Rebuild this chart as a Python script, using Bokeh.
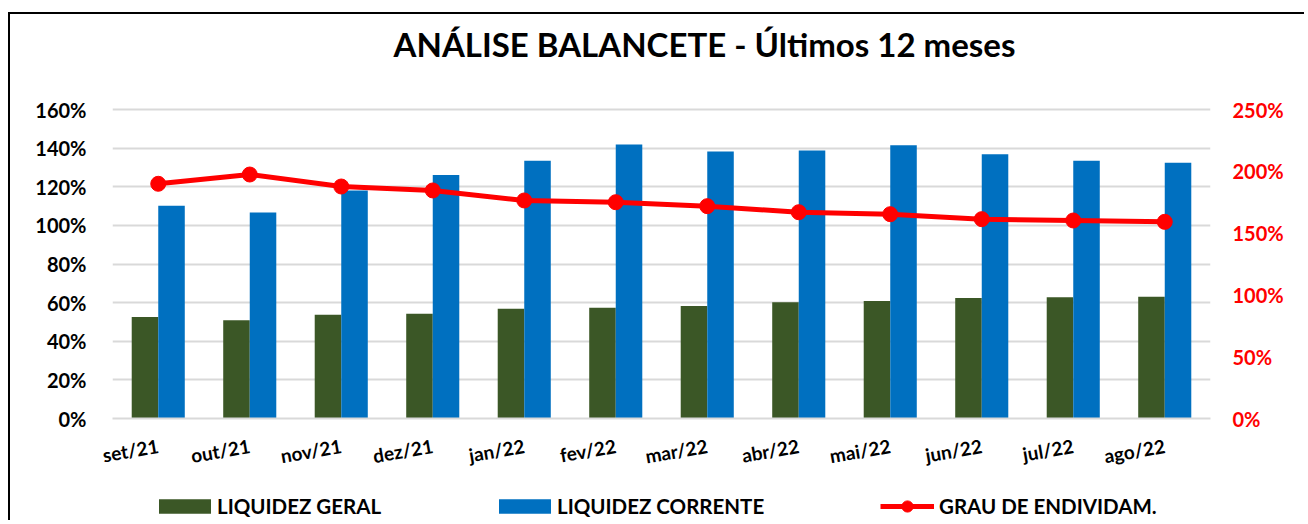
from bokeh.plotting import figure
from bokeh.models import (Range1d, LinearAxis, FixedTicker, NumeralTickFormatter,
                          Legend, LegendItem, Label, Spacer, ColumnDataSource)
from bokeh.transform import dodge
from bokeh.layouts import column, row
from bokeh.embed import file_html
from bokeh.resources import INLINE

months = ["set/21", "out/21", "nov/21", "dez/21", "jan/22", "fev/22",
          "mar/22", "abr/22", "mai/22", "jun/22", "jul/22", "ago/22"]
liquidez_geral = [0.526, 0.509, 0.537, 0.543, 0.568, 0.574,
                  0.583, 0.602, 0.609, 0.624, 0.628, 0.631]
liquidez_corrente = [1.101, 1.067, 1.18, 1.261, 1.335, 1.419,
                     1.383, 1.388, 1.415, 1.368, 1.335, 1.324]
grau_endividamento = [1.899, 1.974, 1.877, 1.845, 1.764, 1.750,
                      1.718, 1.669, 1.653, 1.613, 1.602, 1.591]
left_ticks = [0, 0.2, 0.4, 0.6, 0.8, 1.0, 1.2, 1.4, 1.6]
right_ticks = [0, 0.5, 1.0, 1.5, 2.0, 2.5]
title_text = "ANÁLISE BALANCETE - Últimos 12 meses"
legend_labels = ["LIQUIDEZ GERAL", "LIQUIDEZ CORRENTE", "GRAU DE ENDIVIDAM."]

FONT = "Lato"
GREEN = "#3B5726"
BLUE = "#0070C0"
RED = "#FF0000"

# layout geometry (pixels, canvas coordinates)
W, H = 1296, 476
FRAME_LEFT, FRAME_RIGHT = 102, 1200
GRID_TOP, ZERO_Y = 95, 404           # y of the 160% gridline and of 0
px_per_unit = (ZERO_Y - GRID_TOP) / 1.6
left_max = ZERO_Y / px_per_unit
right_max = left_max * 2.5 / 1.6

src = ColumnDataSource(dict(months=months, lg=liquidez_geral,
                            lc=liquidez_corrente, ge=grau_endividamento))

p = figure(x_range=months, y_range=Range1d(0, left_max), width=W, height=H,
           output_backend="svg", toolbar_location=None,
           min_border_left=FRAME_LEFT, min_border_right=W - FRAME_RIGHT,
           min_border_top=0, min_border_bottom=H - ZERO_Y)
p.title = None
p.outline_line_color = None
p.background_fill_color = "white"
p.border_fill_color = "white"
p.styles = {"border-left": "2px solid black", "border-top": "2px solid black"}

p.extra_y_ranges = {"right": Range1d(0, right_max)}

bw = 0.29


def draw_series(fig, y_range_name="default"):
    a = fig.vbar(x=dodge("months", -bw / 2, range=fig.x_range), top="lg", width=bw,
                 source=src, fill_color=GREEN, line_color=None)
    b = fig.vbar(x=dodge("months", bw / 2, range=fig.x_range), top="lc", width=bw,
                 source=src, fill_color=BLUE, line_color=None)
    c = fig.line(x="months", y="ge", source=src, y_range_name=y_range_name,
                 line_color=RED, line_width=5)
    d = fig.scatter(x="months", y="ge", source=src, y_range_name=y_range_name,
                    size=15, fill_color=RED, line_color=RED)
    return a, b, c, d


draw_series(p, "right")

# grid
p.xgrid.grid_line_color = None
p.ygrid.grid_line_color = "#d9d9d9"
p.ygrid.grid_line_width = 2
p.ygrid.ticker = FixedTicker(ticks=left_ticks)

# left axis
ya = p.yaxis[0]
ya.ticker = FixedTicker(ticks=left_ticks)
ya.formatter = NumeralTickFormatter(format="0%")
ya.axis_line_color = None
ya.major_tick_line_color = None
ya.minor_tick_line_color = None
ya.major_label_standoff = 20
ya.major_label_text_font = FONT
ya.major_label_text_font_style = "bold"
ya.major_label_text_font_size = "20px"
ya.major_label_text_color = "black"

# right axis
ra = LinearAxis(y_range_name="right", ticker=FixedTicker(ticks=right_ticks),
                formatter=NumeralTickFormatter(format="0%"))
ra.axis_line_color = None
ra.major_tick_line_color = None
ra.minor_tick_line_color = None
ra.major_label_standoff = 16
ra.major_label_text_font = FONT
ra.major_label_text_font_style = "bold"
ra.major_label_text_font_size = "20px"
ra.major_label_text_color = RED
p.add_layout(ra, "right")

# x axis
xa = p.xaxis[0]
xa.axis_line_color = "#d9d9d9"
xa.axis_line_width = 2
xa.major_tick_line_color = None
xa.minor_tick_line_color = None
xa.major_label_orientation = 0.17
xa.major_label_standoff = 21
xa.major_label_text_font = FONT
xa.major_label_text_font_style = "bold"
xa.major_label_text_font_size = "19px"
xa.major_label_text_color = "black"

# title
title = Label(x=6.47, y=1.6 + (109 - 43) / 309 * 1.6,
              text=title_text, text_align="center", text_baseline="middle",
              text_font=FONT, text_font_style="bold",
              text_font_size="33px", text_color="black")
p.add_layout(title)

# legend strip below the chart (shares the x range; series drawn out of view)
H2 = 32
p2 = figure(x_range=p.x_range, y_range=Range1d(100, 100 + H2), width=W, height=H2,
            output_backend="svg", toolbar_location=None,
            x_axis_type=None, y_axis_type=None,
            min_border_left=FRAME_LEFT, min_border_right=W - FRAME_RIGHT,
            min_border_top=0, min_border_bottom=0)
p2.title = None
p2.outline_line_color = None
p2.xgrid.visible = False
p2.ygrid.visible = False
p2.background_fill_color = "white"
p2.border_fill_color = "white"
p2.styles = {"border-left": "2px solid black"}

l_lg, l_lc, l_line, l_pts = draw_series(p2)


def make_legend(label, renderers, x, y, gw, gh, standoff):
    lg = Legend(items=[LegendItem(label=label, renderers=renderers)],
                location=(x, y), orientation="horizontal",
                background_fill_alpha=0, border_line_color=None,
                padding=0, margin=0, spacing=0,
                glyph_width=gw, glyph_height=gh, label_standoff=standoff,
                label_height=16,
                label_text_font=FONT, label_text_font_style="bold",
                label_text_font_size="20.5px", label_text_color="black")
    p2.add_layout(lg, "center")


make_legend(legend_labels[0], [l_lg], 40, 2, 65, 18, 0)
make_legend(legend_labels[1], [l_lc], 380, 2, 65, 18, 0)
make_legend(legend_labels[2], [l_line, l_pts], 768, 0, 54, 28, 5)

layout = column(Spacer(height=12), row(Spacer(width=8), column(p, p2)))

open("out.html", "w").write(file_html(layout, INLINE))
